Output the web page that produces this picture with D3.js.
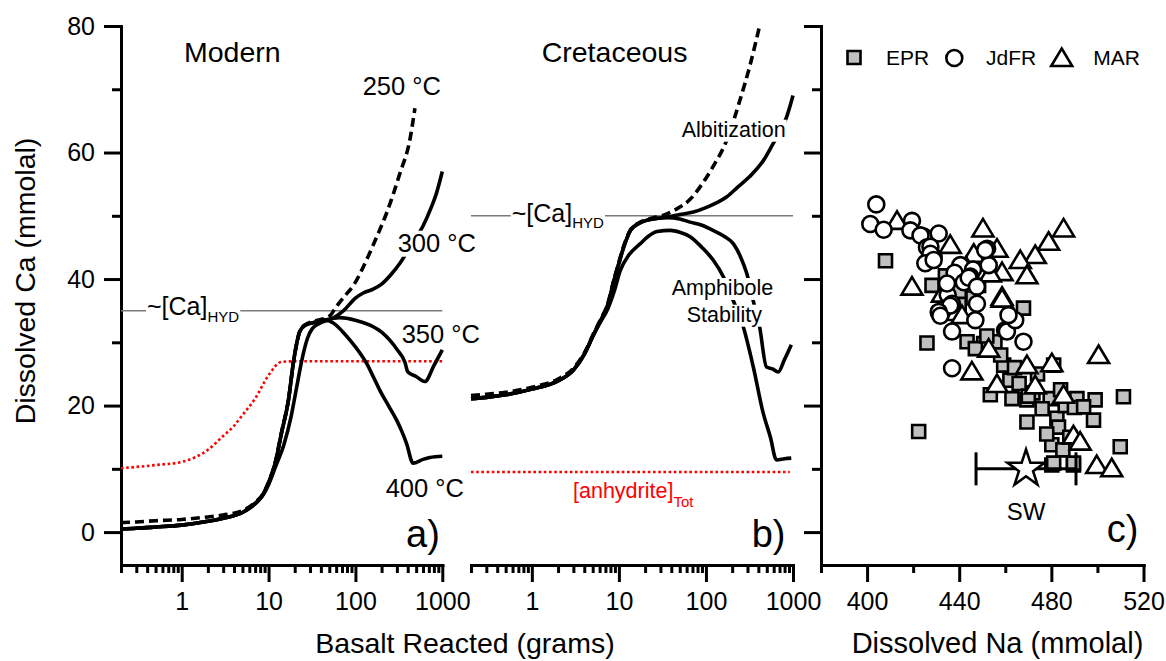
<!DOCTYPE html>
<html>
<head>
<meta charset="utf-8">
<script src="https://cdn.jsdelivr.net/npm/d3@7"></script>
<style>
  html, body { margin: 0; padding: 0; background: #fff; }
  svg { display: block; }
</style>
</head>
<body>
<svg id="chart" width="1166" height="661"></svg>
<script>
// ---------------- data ----------------
const caTicks = [0, 20, 40, 60, 80];
const caMinorTicks = [10, 30, 50, 70];
const gramTicks = [1, 10, 100, 1000];
const naTicks = [400, 440, 480, 520];
const naMinorTicks = [380, 420, 460, 500];

// Modern seawater: [basalt reacted (g), dissolved Ca (mmolal)]
const modern250 = [[0.2,1.5],[0.3,1.6],[0.5,1.8],[1,2],[2,2.4],[3,2.7],[5,3.4],[7,4.7],[8.5,5.9],[10,7.9],[12,11.2],[14,15.6],[17,21.1],[19.4,27],[23,31.8],[26.4,32.8],[35,33.4],[50,34.1],[60,35.6],[75,37.3],[95,39],[134,43],[180,47],[228,50.4],[325,56.7],[423,62],[484,67]];
const modern300 = [[0.2,0.5],[0.3,0.6],[0.5,0.8],[1,1.1],[2,1.7],[3,2.2],[5,3.1],[7,4.5],[8.5,5.7],[10,7.5],[12,10.3],[15,13.8],[18,18],[21,22.8],[24,27],[28,30.6],[32,32.2],[40,33.1],[55,33.8],[73,35],[100,37],[123,37.8],[160,38.4],[200,39.2],[260,40.8],[325,42.5],[450,45.6],[596,48.3],[750,51.4],[854,53.5],[1000,57]];
const modern350 = [[0.2,0.5],[0.3,0.6],[0.5,0.8],[1,1.1],[2,1.7],[3,2.2],[5,3.1],[7,4.5],[8.5,5.8],[10,7.8],[12,11],[14,15.5],[17,21],[19.4,27],[23,31.8],[26.4,32.7],[35,33.2],[51,33.7],[66,33.9],[100,33.5],[147,32.7],[200,31.6],[250,30.3],[300,28.9],[370,26.9],[402,25.3],[500,24.6],[630,23.8],[800,26.3],[1000,28.8]];
const modern400 = [[0.2,0.5],[0.3,0.6],[0.5,0.8],[1,1.1],[2,1.7],[3,2.2],[5,3.1],[7,4.5],[8.5,5.8],[10,7.8],[12,11],[14,15.5],[17,21],[19.4,27],[23,31.8],[26.4,32.7],[35,33.2],[45,33.5],[55,33.1],[70,31.8],[87,30.3],[110,28.5],[134,26.7],[160,24.6],[191,22.4],[240,20],[298,17.7],[340,16],[388,14],[460,10.9],[600,11.5],[718,11.8],[1000,12]];
const modernAnhydrite = [[0.2,10.1],[0.5,10.6],[1,11.1],[2,13],[3,15.2],[4,16.8],[5,18.5],[7,21.1],[10,24.8],[14,26.9],[20,27],[1000,27]];
const modernCaHyd = 35;

// Cretaceous seawater
const cret250 = [[0.2,21.6],[0.3,21.8],[0.5,22.1],[1,22.9],[2,24.2],[3,25.9],[4,28.3],[5.2,31.6],[6.2,33.7],[7.4,36],[8.8,40],[10,42.7],[11.4,45.3],[13.6,47.8],[17,48.9],[21,49.4],[27,49.8],[32.6,50.1],[45,51],[65.8,52.6],[90,55],[121,57.8],[174,62],[246,68.3],[318,73.6],[413,80]];
const cret300 = [[0.2,21.1],[0.3,21.3],[0.5,21.7],[1,22.6],[2,23.9],[3,25.6],[4,28.1],[5.2,31.4],[6.2,33.5],[7.4,35.8],[8.8,39.8],[10,42.5],[11.4,45.1],[13.6,47.7],[17,48.8],[21,49.3],[28,49.6],[36,49.8],[50,50.2],[71.7,50.6],[100,51.3],[130,52],[174,53],[230,54.5],[318,56.2],[450,58.6],[591,61.4],[720,63.5],[844,65.6],[1000,69]];
const cret350 = [[0.2,21.1],[0.3,21.3],[0.5,21.7],[1,22.6],[2,23.9],[3,25.6],[4,28.1],[5.2,31.4],[6.2,33.5],[7.4,35.8],[8.8,39.8],[10,42.5],[11.4,45.1],[13.6,47.7],[17,48.8],[21,49.3],[28,49.6],[36,49.7],[50,49.5],[65.8,49],[90,48.5],[121,47.7],[160,46.8],[206,45.6],[250,43.5],[294,40.9],[350,36.5],[413,32.5],[496,26.1],[580,25.8],[675,25.3],[800,27.3],[955,29.6]];
const cret400 = [[0.2,21.1],[0.3,21.3],[0.5,21.7],[1,22.6],[2,23.9],[3,25.6],[4,28.1],[5.2,31.4],[6.2,33.3],[7.4,35.2],[8.8,38],[10.4,41.4],[13,43.8],[17.6,45.6],[22,46.8],[27.4,47.5],[39,47.7],[50,47.4],[65.8,46.7],[90,45],[121,43],[158,40.4],[200,37],[268,32.5],[350,26.1],[455,18.8],[550,15],[646,11.4],[800,11.6],[955,11.7]];
const cretAnhydrite = [[0.2,9.5],[920,9.5]];
const cretCaHyd = 50;

// Vent fluids: [dissolved Na, dissolved Ca] (mmolal)
const eprVents = [[408,42.9],[467.9,35.4],[428.2,39],[448.4,39],[434,40.5],[445,40],[440,38],[426,29.9],[443.4,30.1],[450.6,29.8],[455.5,30.1],[422.4,15.9],[511.3,21.4],[509.9,13.5],[498.3,17.7],[499,20.9],[480.2,10.6],[489.6,10.6],[459.3,26.4],[481,26.4],[453.5,21.7],[462.9,21.1],[469.4,20.9],[479.5,21.1],[491.1,21.1],[469.4,17.4],[482.4,18],[480.2,13.8],[483.1,16.6],[481,10.9],[489.6,10.9],[458,28],[462,24],[466,23.5],[472,22],[476,19.5],[478,15.5],[485,13],[486,20],[490,19.7],[494,19.8],[474,25],[464,26],[447,29],[452,31],[440,36],[446,37],[470,21.5],[484,22.5],[488,15]];
const marVents = [[413,49.2],[450.3,48],[436.1,45.4],[456.4,44.8],[446.3,44],[485.3,48],[478.8,45.9],[473,43.8],[466.5,43],[469.4,40.6],[458.6,41.1],[453.5,40.9],[443,42],[419.5,38.8],[458.6,37.2],[439,34.8],[432.7,37.7],[458.6,36.9],[441.2,34.3],[445.5,25.4],[456.4,23.4],[452.8,29],[500.5,28],[469.4,26.4],[480.2,26.7],[473,23.2],[485.3,21.7],[489.6,15.3],[492.5,14.3],[499.7,10.6],[506.2,10.1]];
const jdfrVents = [[404,51.8],[401.4,48.7],[407.2,47.8],[419.5,49.2],[418.8,47.7],[424.6,46.7],[431.1,47.2],[423.2,46.9],[426,45],[427.5,45.1],[428.9,43.5],[427.5,44],[425.3,42.5],[428.9,43],[440.5,42.2],[438,41],[446,41.5],[442,39.5],[435,37.5],[452.1,44.8],[452.8,42.2],[451.3,44.6],[444.8,40.4],[444.1,40.2],[434.7,39.3],[447.7,38.8],[436.9,36.1],[447.7,36.1],[436.1,35.8],[431.1,34.8],[431.8,34.2],[447,33.5],[436.9,31.7],[459.9,31.9],[460.7,31.7],[464.3,33.5],[461.4,34.3],[467.9,30.1],[436.9,25.9]];
const seawater = { na: 469, ca: 10, naErr: 21.7 };

// ---------------- layout ----------------
const FONT = "'Liberation Sans', Arial, Helvetica, sans-serif";
const svg = d3.select("#chart");
svg.append("rect").attr("width", 1166).attr("height", 661).attr("fill", "#fff");

const y = d3.scaleLinear().domain([-5.2, 80]).range([565, 26]);
const xA = d3.scaleLog().domain([0.2, 1000]).range([121, 442.3]);
const xB = d3.scaleLog().domain([0.2, 1000]).range([471, 793]);
const xC = d3.scaleLinear().domain([380, 520]).range([821, 1143.5]);

const gramMinor = [0.1, 1, 10, 100]
  .flatMap(d => [2, 3, 4, 5, 6, 7, 8, 9].map(k => +(k * d).toPrecision(3)))
  .filter(v => v >= 0.2 && v < 1000);

function styleAxis(g) {
  g.attr("font-family", FONT).attr("font-size", 25);
  g.selectAll("path, line").attr("stroke", "#000").attr("stroke-width", 3);
  g.select(".domain").attr("stroke-linecap", "square");
  g.selectAll("text").attr("fill", "#000");
}

// bottom axes
function bottomAxis(scale, major, minor, fmt) {
  svg.append("g").attr("transform", "translate(0,565)")
    .call(d3.axisBottom(scale).tickValues(minor).tickSize(8).tickSizeOuter(0).tickFormat(""))
    .call(styleAxis);
  svg.append("g").attr("transform", "translate(0,565)")
    .call(d3.axisBottom(scale).tickValues(major).tickSize(17).tickSizeOuter(0).tickPadding(10).tickFormat(fmt))
    .call(styleAxis);
}
bottomAxis(xA, gramTicks, gramMinor, d3.format("d"));
bottomAxis(xB, gramTicks, gramMinor, d3.format("d"));
bottomAxis(xC, naTicks, naMinorTicks, d3.format("d"));

// left axes (panel a labelled, panel c bare)
function leftAxis(x0, labelled) {
  svg.append("g").attr("transform", `translate(${x0},0)`)
    .call(d3.axisLeft(y).tickValues(caMinorTicks).tickSize(9).tickSizeOuter(0).tickFormat(""))
    .call(styleAxis);
  svg.append("g").attr("transform", `translate(${x0},0)`)
    .call(d3.axisLeft(y).tickValues(caTicks).tickSize(17).tickSizeOuter(0).tickPadding(9)
      .tickFormat(labelled ? d3.format("d") : () => ""))
    .call(styleAxis);
}
leftAxis(121, true);
leftAxis(821, false);

// ---------------- reference levels ----------------
function hline(xs, val) {
  svg.append("line")
    .attr("x1", xs.range()[0]).attr("x2", xs.range()[1])
    .attr("y1", y(val)).attr("y2", y(val))
    .attr("stroke", "#7a7a7a").attr("stroke-width", 1.6);
}
hline(xA, modernCaHyd);
hline(xB, cretCaHyd);

// ---------------- curves ----------------
function curve(xs, data, opts) {
  const line = d3.line().x(d => xs(d[0])).y(d => y(d[1])).curve(d3.curveMonotoneX);
  svg.append("path").datum(data).attr("d", line)
    .attr("fill", "none")
    .attr("stroke", opts.color || "#000")
    .attr("stroke-width", opts.width || 3.6)
    .attr("stroke-dasharray", opts.dash || null)
    .attr("stroke-linejoin", "round");
}
curve(xA, modernAnhydrite, { color: "#ff0000", width: 2.6, dash: "2.6,2.6" });
curve(xB, cretAnhydrite, { color: "#ff0000", width: 2.6, dash: "2.6,2.6" });

curve(xA, modern400, {});
curve(xA, modern350, {});
curve(xA, modern300, {});
curve(xA, modern250, { dash: "9,5" });

curve(xB, cret400, {});
curve(xB, cret350, {});
curve(xB, cret300, {});
curve(xB, cret250, { dash: "9,5" });

// ---------------- scatter ----------------
const sq = d3.symbol(d3.symbolSquare, 169)();
const star = d3.symbol(d3.symbolStar, 427)();
const tri = "M0,-9.5L10.5,8L-10.5,8Z";
const mk = svg.append("g").attr("stroke", "#000").attr("stroke-width", 2.6).attr("stroke-linejoin", "miter");

mk.selectAll(".epr").data(eprVents).join("path").attr("class", "epr")
  .attr("d", sq).attr("fill", "#c0c0c0")
  .attr("transform", d => `translate(${xC(d[0])},${y(d[1])})`);
mk.selectAll(".mar").data(marVents).join("path").attr("class", "mar")
  .attr("d", tri).attr("fill", "#fff")
  .attr("transform", d => `translate(${xC(d[0])},${y(d[1])})`);
mk.selectAll(".jdfr").data(jdfrVents).join("circle").attr("class", "jdfr")
  .attr("r", 8).attr("fill", "#fff")
  .attr("cx", d => xC(d[0])).attr("cy", d => y(d[1]));

// seawater with Na range
const swY = y(seawater.ca);
const swL = xC(seawater.na - seawater.naErr), swR = xC(seawater.na + seawater.naErr);
const sw = svg.append("g").attr("stroke", "#000").attr("stroke-width", 3);
sw.append("line").attr("x1", swL).attr("x2", swR).attr("y1", swY).attr("y2", swY);
sw.append("line").attr("x1", swL).attr("x2", swL).attr("y1", swY - 16.5).attr("y2", swY + 16.5);
sw.append("line").attr("x1", swR).attr("x2", swR).attr("y1", swY - 16.5).attr("y2", swY + 16.5);
sw.append("path").attr("d", star).attr("fill", "#fff").attr("stroke-width", 2.6)
  .attr("transform", `translate(${xC(seawater.na)},${swY})`);

// legend
const lg = svg.append("g").attr("stroke", "#000").attr("stroke-width", 2.6);
lg.append("path").attr("d", sq).attr("fill", "#c0c0c0").attr("transform", "translate(854,57.5)");
lg.append("circle").attr("cx", 954.3).attr("cy", 58).attr("r", 8).attr("fill", "#fff");
lg.append("path").attr("d", tri).attr("fill", "#fff").attr("transform", "translate(1061.7,58)");

// ---------------- text ----------------
function text(x, yy, str, size, opts = {}) {
  const t = svg.append("text").attr("x", x).attr("y", yy)
    .attr("font-family", FONT).attr("font-size", size)
    .attr("fill", opts.fill || "#000")
    .attr("text-anchor", opts.anchor || "start");
  if (opts.sub) {
    t.append("tspan").text(str);
    t.append("tspan").attr("font-size", opts.subSize).attr("dy", opts.subDy).text(opts.sub);
  } else {
    t.text(str);
  }
  if (opts.backdrop) {
    const b = t.node().getBBox();
    svg.insert("rect", () => t.node())
      .attr("x", b.x - 1).attr("y", b.y + 2).attr("width", b.width + 2).attr("height", b.height - 2)
      .attr("fill", "#fff");
  }
  return t;
}

text(184, 62, "Modern", 28.5);
text(541.7, 62, "Cretaceous", 28.5);

text(362.7, 95, "250 °C", 25.5, { backdrop: true });
text(397.7, 251.7, "300 °C", 25.5, { backdrop: true });
text(401.7, 342.7, "350 °C", 25.5, { backdrop: true });
text(385.7, 496.7, "400 °C", 25.5, { backdrop: true });

text(147, 315, "~[Ca]", 25, { sub: "HYD", subSize: 15, subDy: 7, backdrop: true });
text(511.7, 222, "~[Ca]", 25, { sub: "HYD", subSize: 15, subDy: 6, backdrop: true });

text(681.7, 136.7, "Albitization", 21.5, { backdrop: true });
text(671.7, 295, "Amphibole", 21.5, { backdrop: true });
text(686.7, 321.7, "Stability", 21.5, { backdrop: true });
text(573, 498, "[anhydrite]", 21.5, { fill: "#ff0000", sub: "Tot", subSize: 15, subDy: 8.5 });

text(406, 547, "a)", 38);
text(751.7, 547, "b)", 38);
text(1106.7, 542, "c)", 38);

text(1006.7, 520, "SW", 24);

text(886, 65, "EPR", 21);
text(986, 65, "JdFR", 21);
text(1093.3, 65, "MAR", 21);

text(465, 653, "Basalt Reacted (grams)", 28.5, { anchor: "middle" });
text(997.5, 653, "Dissolved Na (mmolal)", 29, { anchor: "middle" });
svg.append("text")
  .attr("transform", "translate(35,281) rotate(-90)")
  .attr("text-anchor", "middle")
  .attr("font-family", FONT).attr("font-size", 28.5).attr("fill", "#000")
  .text("Dissolved Ca (mmolal)");
</script>
</body>
</html>
